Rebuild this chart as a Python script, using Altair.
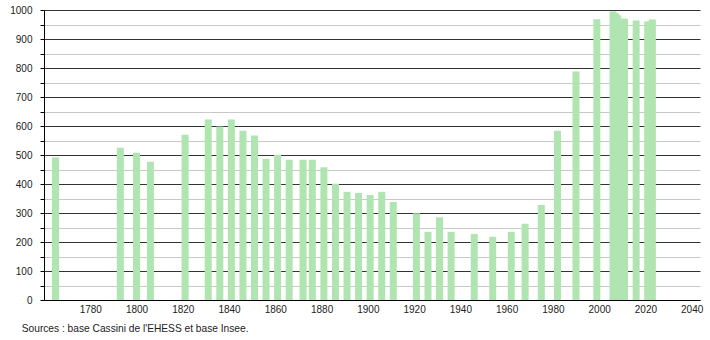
import altair as alt
import pandas as pd

years = [1765, 1793, 1800, 1806, 1821, 1831, 1836, 1841, 1846, 1851, 1856, 1861,
         1866, 1872, 1876, 1881, 1886, 1891, 1896, 1901, 1906, 1911, 1921, 1926,
         1931, 1936, 1946, 1954, 1962, 1968, 1975, 1982, 1990, 1999, 2006, 2007,
         2008, 2009, 2010, 2011, 2016, 2021, 2022, 2023]
population = [491, 525, 508, 477, 570, 622, 598, 622, 584, 567, 487, 501,
              484, 484, 484, 458, 401, 373, 369, 362, 373, 338, 299, 235,
              285, 235, 228, 218, 235, 263, 328, 584, 788, 968, 995, 990,
              982, 970, 968, 970, 964, 960, 960, 967]
y_ticks = list(range(0, 1001, 50))
x_ticks = list(range(1780, 2041, 20))
source_note = "Sources : base Cassini de l'EHESS et base Insee."

df = pd.DataFrame({"annee": years, "pop": population})

FONT = "Liberation Sans"

chart = alt.Chart(df).mark_bar(size=7, color="#b0e4b0").encode(
    x=alt.X(
        "annee:Q",
        scale=alt.Scale(domain=[1760, 2043.6], nice=False, zero=False, padding=0),
        axis=alt.Axis(values=x_ticks, format="d", title=None, grid=False,
                      ticks=False, labelPadding=4, domainColor="#000000",
                      labelFont=FONT, labelFontSize=10, labelColor="#222222"),
    ),
    y=alt.Y(
        "pop:Q",
        scale=alt.Scale(domain=[0, 1000], nice=False, padding=0),
        axis=alt.Axis(values=y_ticks, format="d", title=None, grid=True,
                      gridColor={"condition": {"test": "datum.value % 100 === 0", "value": "#333333"},
                                 "value": "#c8c8c8"},
                      labelExpr="datum.value % 100 === 0 ? datum.label : ''",
                      tickSize=4, tickColor="#000000", domainColor="#000000",
                      labelPadding=8, labelFont=FONT, labelFontSize=10,
                      labelColor="#222222"),
    ),
).properties(
    width=656,
    height=290,
    title=alt.TitleParams(source_note, orient="bottom", anchor="start", dx=12,
                          offset=10, font=FONT, fontSize=10.2, fontWeight="normal",
                          color="#222222"),
    padding={"left": 44, "top": 10, "right": 10, "bottom": 40},
    autosize="none",
).configure_view(stroke=None)

chart.save("out.html", embed_options={"renderer": "svg", "actions": False})
